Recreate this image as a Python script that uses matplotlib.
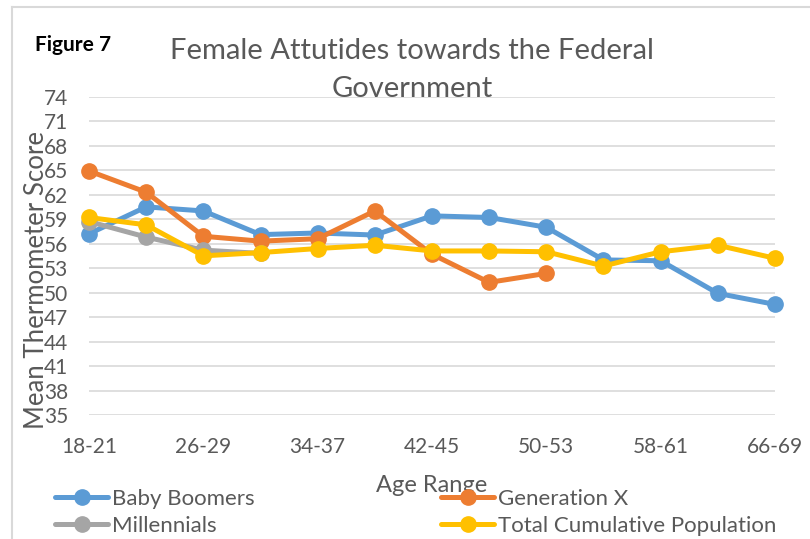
import matplotlib
matplotlib.use('Agg')
import matplotlib.pyplot as plt
from matplotlib.lines import Line2D
import numpy as np

plt.rcParams['font.family'] = ['Lato', 'DejaVu Sans']

age_ranges = ['18-21', '22-25', '26-29', '30-33', '34-37', '38-41', '42-45',
              '46-49', '50-53', '54-57', '58-61', '62-65', '66-69']
baby_boomers = [57.2, 60.5, 60.0, 57.1, 57.3, 57.05, 59.4, 59.2, 58.0, 54.0, 53.9, 49.9, 48.55]
generation_x = [64.9, 62.3, 56.9, 56.3, 56.6, 60.0, 54.7, 51.25, 52.35]
millennials = [58.7, 56.8, 55.2, 54.8]
total_pop = [59.2, 58.3, 54.5, 54.9, 55.4, 55.8, 55.1, 55.1, 55.0, 53.25, 55.0, 55.8, 54.2]

series = [
    ('Baby Boomers', baby_boomers, '#5B9BD5'),
    ('Generation X', generation_x, '#ED7D31'),
    ('Millennials', millennials, '#A5A5A5'),
    ('Total Cumulative Population', total_pop, '#FFC000'),
]

W, H = 810, 539
fig = plt.figure(figsize=(W / 100, H / 100), dpi=100)
ax = fig.add_axes([89 / W, 1 - 415 / H, (775 - 89) / W, (415 - 96.7) / H])

x = np.arange(len(age_ranges))
handles = {}
for name, vals, color in series:
    ln, = ax.plot(x[:len(vals)], vals, color=color, lw=3.6, marker='o',
                  markersize=11, solid_capstyle='round', clip_on=False, label=name)
    handles[name] = ln

ax.set_xlim(0, 12)
ax.set_ylim(35, 74)
ax.set_yticks(np.arange(35, 75, 3))
ax.set_xticks(x[::2])
ax.set_xticklabels(age_ranges[::2])
ax.tick_params(axis='both', length=0, labelcolor='#595959', labelsize=15)
ax.tick_params(axis='x', pad=16)
ax.tick_params(axis='y', pad=15)
ax.grid(axis='y', color='#D9D9D9', lw=1.2)
ax.set_axisbelow(True)
for s in ax.spines.values():
    s.set_visible(False)

ax.set_ylabel('Mean Thermometer Score', fontsize=18.5, color='#595959')
ax.yaxis.set_label_coords(-0.058, 0.424)

fig.text(412 / W, 1 - 51 / H, 'Female Attutides towards the Federal', ha='center',
         va='center', fontsize=21, color='#595959')
fig.text(412 / W, 1 - 89 / H, 'Government', ha='center', va='center',
         fontsize=21, color='#595959')
fig.text(35 / W, 1 - 45 / H, 'Figure 7', ha='left', va='center', fontsize=15,
         fontweight='bold', color='black')
fig.text(432 / W, 1 - 486 / H, 'Age Range', ha='center', va='center',
         fontsize=17, color='#595959')

order = ['Baby Boomers', 'Millennials', 'Generation X', 'Total Cumulative Population']
leg = fig.legend([handles[n] for n in order], order, loc='upper left',
                 bbox_to_anchor=(55 / W, 1 - 489 / H), ncol=2, frameon=False,
                 fontsize=16, handlelength=2.4, handletextpad=0.15,
                 columnspacing=8.4, labelspacing=0.3, borderpad=0,
                 borderaxespad=0)
for t in leg.get_texts():
    t.set_color('#595959')

fig.add_artist(Line2D([12 / W, 1], [1 - 7 / H, 1 - 7 / H], color='#D9D9D9', lw=1.5))
fig.add_artist(Line2D([12 / W, 12 / W], [0, 1 - 7 / H], color='#D9D9D9', lw=1.5))

fig.savefig('out.png', dpi=100)
